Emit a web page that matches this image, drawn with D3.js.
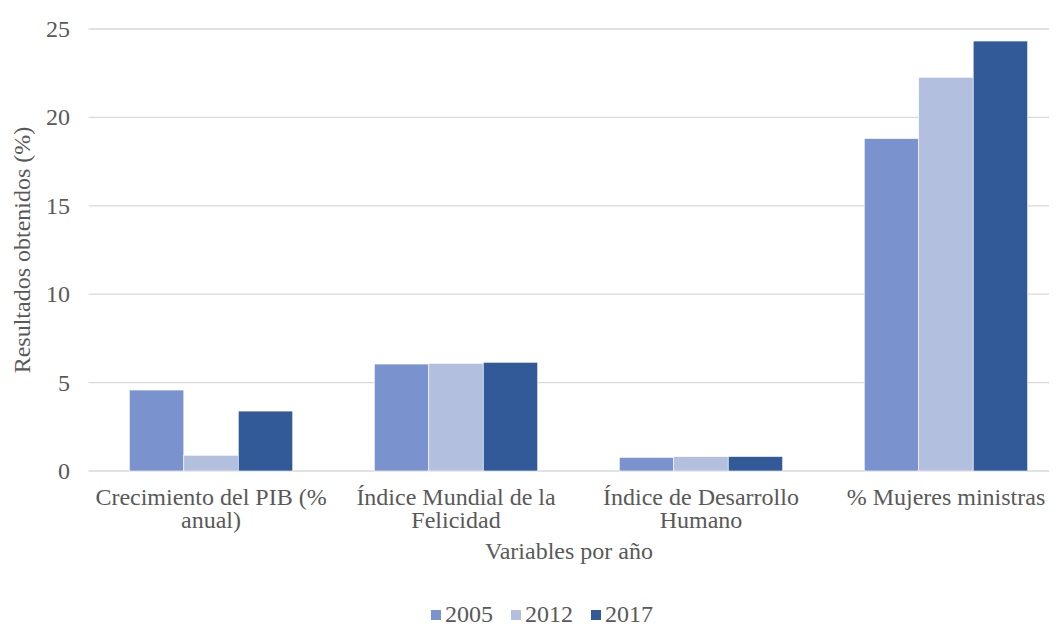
<!DOCTYPE html>
<html>
<head>
<meta charset="UTF-8">
<title>Resultados por anio</title>
<script src="https://d3js.org/d3.v7.min.js"></script>
<style>
  * { margin: 0; padding: 0; }
  body { background: #fff; }
</style>
</head>
<body>
<div id="chart"></div>
<script>
// data
const categories = [
  ["Crecimiento del PIB (%", "anual)"],
  ["Índice Mundial de la", "Felicidad"],
  ["Índice de Desarrollo", "Humano"],
  ["% Mujeres ministras"]
];
const years = ["2005", "2012", "2017"];
const v2005 = [4.58, 6.05, 0.77, 18.8];
const v2012 = [0.89, 6.09, 0.81, 22.27];
const v2017 = [3.39, 6.15, 0.82, 24.32];
const yTicks = [0, 5, 10, 15, 20, 25];
const colors = ["#7a93cf", "#b3bfdf", "#325a99"];

const series = [v2005, v2012, v2017];
const W = 1056, H = 626;
const FONT = "'Liberation Serif', 'Times New Roman', serif";
const TXT = "#595959";
const m = { left: 88.5, right: 7, top: 29, bottom: 155 };

const svg = d3.select("#chart").append("svg")
  .attr("width", W).attr("height", H);

// category band runs a bit past the last grid line, as in the original
const x0 = d3.scaleBand()
  .domain(d3.range(categories.length))
  .range([m.left, m.left + 980])
  .paddingInner(0.333).paddingOuter(0.1667);
const x1 = d3.scaleBand()
  .domain(d3.range(years.length))
  .range([0, x0.bandwidth()]);
const y = d3.scaleLinear().domain([0, 25]).range([H - m.bottom, m.top]);

function txt(sel) {
  return sel.style("font-family", FONT).attr("font-size", 24).attr("fill", TXT);
}

// grid lines
svg.append("g").selectAll("line")
  .data(yTicks).join("line")
  .attr("x1", m.left).attr("x2", 1049)
  .attr("y1", d => y(d)).attr("y2", d => y(d))
  .attr("stroke", "#d9d9d9").attr("stroke-width", 1.3);

// y tick labels
txt(svg.append("g").selectAll("text")
  .data(yTicks).join("text")
  .attr("x", 70).attr("y", d => y(d))
  .attr("dy", "0.33em")
  .attr("text-anchor", "end"))
  .text(d => d);

// bars
const groups = svg.append("g").selectAll("g")
  .data(categories).join("g")
  .attr("transform", (d, i) => `translate(${x0(i)},0)`);
groups.selectAll("rect")
  .data((d, i) => series.map((s, k) => ({ k, v: s[i] })))
  .join("rect")
  .attr("x", d => x1(d.k))
  .attr("width", x1.bandwidth())
  .attr("y", d => y(d.v))
  .attr("height", d => y(0) - y(d.v))
  .attr("fill", d => colors[d.k])
  .attr("stroke", "#ffffff").attr("stroke-width", 0.6);

// category labels
const labels = txt(svg.append("g").selectAll("text")
  .data(categories).join("text")
  .attr("text-anchor", "middle")
  .attr("x", (d, i) => x0(i) + x0.bandwidth() / 2)
  .attr("y", 505));
labels.selectAll("tspan")
  .data(d => d).join("tspan")
  .attr("x", function () { return d3.select(this.parentNode).attr("x"); })
  .attr("dy", (d, i) => i === 0 ? 0 : 23)
  .text(d => d);

// axis titles
txt(svg.append("text")
  .attr("x", 569).attr("y", 559)
  .attr("text-anchor", "middle"))
  .text("Variables por año");
txt(svg.append("text")
  .attr("transform", "translate(30,250) rotate(-90)")
  .attr("text-anchor", "middle"))
  .text("Resultados obtenidos (%)");

// legend
const legX = [431, 511, 591];
const leg = svg.append("g").selectAll("g")
  .data(years).join("g")
  .attr("transform", (d, i) => `translate(${legX[i]},614)`);
leg.append("rect")
  .attr("width", 10).attr("height", 10).attr("y", -4)
  .attr("fill", (d, i) => colors[i]);
txt(leg.append("text")
  .attr("x", 14).attr("dy", "0.33em"))
  .text(d => d);
</script>
</body>
</html>
